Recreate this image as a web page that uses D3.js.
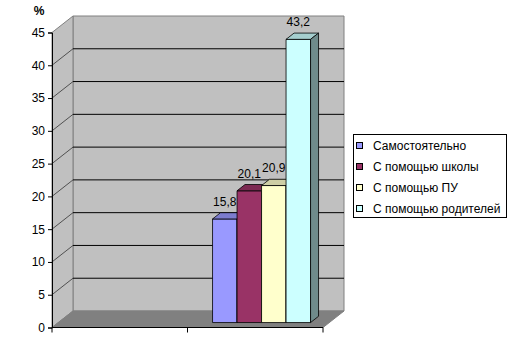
<!DOCTYPE html>
<html>
<head>
<meta charset="utf-8">
<script src="https://cdn.jsdelivr.net/npm/d3@7"></script>
<style>
  body { margin: 0; background: #fff; }
  svg { font-family: "Liberation Sans", Arial, sans-serif; }
</style>
</head>
<body>
<div id="master"></div>
<script>
// data
let categories = ["", "1"]        // two category slots, only the second one has values
let dataCategory = "1"
let seriesNames = ["Самостоятельно", "С помощью школы", "С помощью ПУ", "С помощью родителей"]
let seriesValues = [15.8, 20.1, 20.9, 43.2]
let seriesLabels = ["15,8", "20,1", "20,9", "43,2"]
let colors = ["#9999FF", "#993366", "#FFFFCC", "#CCFFFF"]
let yTicks = [0, 5, 10, 15, 20, 25, 30, 35, 40, 45]

let w = 515, h = 342
let DX = 21, DY = 16.5          // depth of the 3d box
let zFront = 0.3, zBack = 0.68  // depth of the bars inside the box

let svg = d3.select("#master").append("svg").attr("width", w).attr("height", h)

let y = d3.scaleLinear().domain([0, 45]).range([327.5, 32.5])
let x = d3.scaleBand().domain(categories).range([52, 323])
let xs = d3.scaleBand().domain(seriesNames).range([0, x.bandwidth()]).paddingOuter(0.765)

let proj = (xf, v, z) => [xf + z * DX, y(v) - z * DY]
let poly = pts => "M" + pts.map(p => p.join(",")).join("L") + "Z"

let x0 = x.range()[0], x1 = x.range()[1]

// walls
svg.append("path")
  .attr("d", poly([proj(x0, 0, 1), proj(x1, 0, 1), proj(x1, 45, 1), proj(x0, 45, 1)]))
  .attr("fill", "#c0c0c0").attr("stroke", "#808080")
svg.append("path")
  .attr("d", poly([proj(x0, 0, 0), proj(x0, 45, 0), proj(x0, 45, 1), proj(x0, 0, 1)]))
  .attr("fill", "#c0c0c0").attr("stroke", "#808080")

// gridlines
yTicks.filter(t => t > 0 && t < 45).forEach(t => {
  svg.append("line")
    .attr("x1", proj(x0, t, 1)[0]).attr("y1", proj(x0, t, 1)[1])
    .attr("x2", proj(x1, t, 1)[0]).attr("y2", proj(x1, t, 1)[1])
    .attr("stroke", "#000").attr("stroke-width", 1)
  svg.append("line")
    .attr("x1", proj(x0, t, 0)[0]).attr("y1", proj(x0, t, 0)[1])
    .attr("x2", proj(x0, t, 1)[0]).attr("y2", proj(x0, t, 1)[1])
    .attr("stroke", "#333").attr("stroke-width", 0.8)
})

// floor
svg.append("path")
  .attr("d", poly([proj(x0, 0, 0), proj(x1, 0, 0), proj(x1, 0, 1), proj(x0, 0, 1)]))
  .attr("fill", "#808080").attr("stroke", "#808080")

// value axis
let yAxis = d3.axisLeft(y).tickValues(yTicks).tickSize(4).tickPadding(3)
let yg = svg.append("g").attr("transform", "translate(" + x0 + ",0)").call(yAxis)
yg.select(".domain").attr("stroke", "#000")
yg.selectAll(".tick line").attr("stroke", "#000")
yg.selectAll("text").attr("font-size", "12px").attr("fill", "#000").attr("font-family", "Liberation Sans, Arial")

svg.append("text").attr("x", 39).attr("y", 15).attr("text-anchor", "middle")
  .attr("font-size", "12px").attr("font-weight", "bold").text("%")

// category axis
let xg = svg.append("g").attr("transform", "translate(0," + y(0) + ")")
xg.append("line").attr("x1", x0).attr("x2", x1).attr("stroke", "#000")
xg.selectAll(".ctick").data(categories.concat(["end"])).enter().append("line")
  .attr("x1", (d, i) => i < categories.length ? x(d) : x1)
  .attr("x2", (d, i) => i < categories.length ? x(d) : x1)
  .attr("y1", 0).attr("y2", 5).attr("stroke", "#000")

// bars
seriesNames.forEach((name, i) => {
  let v = seriesValues[i]
  let bl = x(dataCategory) + xs(name)
  let br = bl + xs.bandwidth()
  let c = d3.color(colors[i])
  let g = svg.append("g")
  g.append("path")
    .attr("d", poly([proj(bl, 0, zFront), proj(br, 0, zFront), proj(br, v, zFront), proj(bl, v, zFront)]))
    .attr("fill", colors[i]).attr("stroke", "#000").attr("stroke-width", 0.8)
  g.append("path")
    .attr("d", poly([proj(bl, v, zFront), proj(br, v, zFront), proj(br, v, zBack), proj(bl, v, zBack)]))
    .attr("fill", c.darker(0.6)).attr("stroke", "#000").attr("stroke-width", 0.8)
  g.append("path")
    .attr("d", poly([proj(br, 0, zFront), proj(br, 0, zBack), proj(br, v, zBack), proj(br, v, zFront)]))
    .attr("fill", c.darker(1.7)).attr("stroke", "#000").attr("stroke-width", 0.8)
})

// value labels
svg.selectAll(".vlabel").data(seriesNames).enter().append("text")
  .attr("x", (d, i) => proj(x(dataCategory) + xs(d) + xs.bandwidth() / 2, 0, zFront)[0])
  .attr("y", (d, i) => proj(0, seriesValues[i], zBack)[1] - 7)
  .attr("text-anchor", "middle").attr("font-size", "12px").attr("fill", "#000")
  .text((d, i) => seriesLabels[i])

// legend
let legend = svg.append("g").attr("id", "legend")
legend.append("rect").attr("x", 353.5).attr("y", 134.5).attr("width", 153).attr("height", 83)
  .attr("fill", "#fff").attr("stroke", "#000")
let ly = d3.scalePoint().domain(seriesNames).range([146, 209])
seriesNames.forEach((name, i) => {
  legend.append("rect").attr("x", 356.5).attr("y", ly(name) - 3.5).attr("width", 6).attr("height", 6)
    .attr("fill", colors[i]).attr("stroke", "#000")
  legend.append("text").attr("x", 373).attr("y", ly(name) + 4).attr("font-size", "12px").text(name)
})
</script>
</body>
</html>
